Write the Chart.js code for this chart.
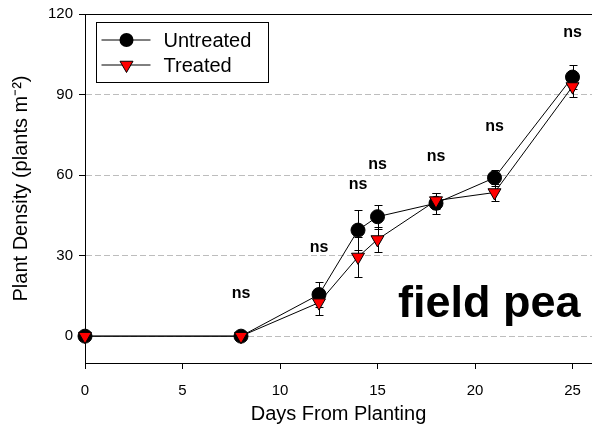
<!DOCTYPE html>
<html>
<head>
<meta charset="utf-8">
<script src="https://cdn.jsdelivr.net/npm/chart.js@4.4.1/dist/chart.umd.min.js"></script>
<style>
  body { margin: 0; background: #fff; }
  canvas { display: block; }
</style>
</head>
<body>
<canvas id="peaChart" width="592" height="428"></canvas>
<script>
// days after planting and plant density (plants m-2)
var days = [0, 8, 12, 14, 15, 18, 21, 25];
var untreated = [0, 0, 15.5, 39.5, 44.5, 49.5, 59, 96.5];
var untreatedErr = [0, 0, 4.5, 7.5, 4.5, 4, 3, 4.5];
var treated = [0, 0, 12.5, 29.5, 36, 50.5, 53.5, 93];
var treatedErr = [0, 0, 4.5, 7.5, 4.5, 3, 3, 4];

// "ns" labels (day, height on y scale)
var nsDays = [8, 12, 14, 15, 18, 21, 25];
var nsHeights = [16, 33, 56.5, 64, 67, 78, 113];

var xTicks = [0, 5, 10, 15, 20, 25];
var yTicks = [0, 30, 60, 90, 120];

var FONT = '"Liberation Sans", Arial, sans-serif';

function pts(xs, ys) {
    return xs.map(function (d, i) { return { x: d, y: ys[i] }; });
}

function drawTriangle(ctx, cx, cy, r) {
    // downward triangle, same shape as chart.js 'triangle' rotated 180
    var h = r * 1.5;
    var w = r * Math.sqrt(3) / 2;
    ctx.beginPath();
    ctx.moveTo(cx, cy + r);
    ctx.lineTo(cx - w, cy + r - h);
    ctx.lineTo(cx + w, cy + r - h);
    ctx.closePath();
    ctx.fill();
    ctx.stroke();
}

var extras = {
    id: 'extras',
    beforeDatasetsDraw: function (chart) {
        var ctx = chart.ctx, x = chart.scales.x, y = chart.scales.y;
        ctx.save();
        ctx.strokeStyle = '#000';
        ctx.lineWidth = 1;
        [[untreated, untreatedErr], [treated, treatedErr]].forEach(function (s) {
            var vals = s[0], errs = s[1];
            days.forEach(function (d, i) {
                if (!errs[i]) return;
                var px = Math.round(x.getPixelForValue(d)) + 0.5;
                var top = Math.round(y.getPixelForValue(vals[i] + errs[i])) + 0.5;
                var bot = Math.round(y.getPixelForValue(vals[i] - errs[i])) + 0.5;
                ctx.beginPath();
                ctx.moveTo(px, top); ctx.lineTo(px, bot);
                ctx.moveTo(px - 4, top); ctx.lineTo(px + 4, top);
                ctx.moveTo(px - 4, bot); ctx.lineTo(px + 4, bot);
                ctx.stroke();
            });
        });
        ctx.restore();
    },
    afterDraw: function (chart) {
        var ctx = chart.ctx, a = chart.chartArea, x = chart.scales.x, y = chart.scales.y;
        ctx.save();
        // top frame line
        ctx.strokeStyle = '#000';
        ctx.lineWidth = 1;
        ctx.beginPath();
        ctx.moveTo(a.left, Math.round(a.top) + 0.5);
        ctx.lineTo(a.right, Math.round(a.top) + 0.5);
        ctx.stroke();

        // ns labels
        ctx.fillStyle = '#000';
        ctx.font = 'bold 16px ' + FONT;
        ctx.textAlign = 'center';
        ctx.textBaseline = 'middle';
        nsDays.forEach(function (d, i) {
            ctx.fillText('ns', x.getPixelForValue(d), y.getPixelForValue(nsHeights[i]));
        });

        // crop label
        ctx.font = 'bold 45px ' + FONT;
        ctx.textAlign = 'left';
        ctx.textBaseline = 'alphabetic';
        ctx.fillText('field pea', x.getPixelForValue(16.05), y.getPixelForValue(7));

        // legend box
        var bx = a.left + 11.5, by = a.top + 8.5, bw = 172, bh = 60;
        ctx.fillStyle = '#fff';
        ctx.fillRect(bx, by, bw, bh);
        ctx.strokeRect(bx, by, bw, bh);
        var rows = [
            { label: 'Untreated', yy: by + 17.5, kind: 'circle' },
            { label: 'Treated', yy: by + 42.5, kind: 'tri' }
        ];
        rows.forEach(function (r) {
            ctx.strokeStyle = '#000';
            ctx.beginPath();
            ctx.moveTo(bx + 5, r.yy);
            ctx.lineTo(bx + 54, r.yy);
            ctx.stroke();
            if (r.kind === 'circle') {
                ctx.fillStyle = '#000';
                ctx.beginPath();
                ctx.arc(bx + 30, r.yy, 7, 0, Math.PI * 2);
                ctx.fill();
            } else {
                ctx.fillStyle = '#ff0000';
                drawTriangle(ctx, bx + 30, r.yy, 7.5);
            }
            ctx.fillStyle = '#000';
            ctx.font = '20px ' + FONT;
            ctx.textAlign = 'left';
            ctx.textBaseline = 'middle';
            ctx.fillText(r.label, bx + 67, r.yy + 1);
        });
        ctx.restore();
    }
};

new Chart('peaChart', {
    type: 'line',
    data: {
        datasets: [{
            label: 'Treated',
            data: pts(days, treated),
            order: 0,
            borderColor: '#000',
            borderWidth: 1,
            pointStyle: 'triangle',
            pointRotation: 180,
            pointRadius: 7.5,
            pointBackgroundColor: '#ff0000',
            pointBorderColor: '#000',
            pointBorderWidth: 1,
            clip: false
        }, {
            label: 'Untreated',
            data: pts(days, untreated),
            order: 1,
            borderColor: '#000',
            borderWidth: 1,
            pointStyle: 'circle',
            pointRadius: 7,
            pointBackgroundColor: '#000',
            pointBorderColor: '#000',
            pointBorderWidth: 1,
            clip: false
        }]
    },
    options: {
        responsive: false,
        animation: false,
        layout: { autoPadding: false, padding: { top: 14, right: 0, left: 0, bottom: 0 } },
        plugins: { legend: { display: false }, tooltip: { enabled: false } },
        scales: {
            x: {
                type: 'linear',
                min: 0,
                max: 26,
                afterBuildTicks: function (s) { s.ticks = xTicks.map(function (v) { return { value: v }; }); },
                afterFit: function (s) { s.height = 65; s.paddingLeft = 0; s.paddingRight = 0; },
                grid: { drawOnChartArea: false, drawTicks: true, tickLength: 6, tickColor: '#000' },
                border: { color: '#000', width: 1 },
                ticks: { color: '#000', font: { family: FONT, size: 15 }, padding: 13, maxRotation: 0 },
                title: {
                    display: true,
                    text: 'Days From Planting',
                    color: '#000',
                    font: { family: FONT, size: 20 },
                    padding: { top: 0, bottom: 2 }
                }
            },
            y: {
                min: -10,
                max: 120,
                afterBuildTicks: function (s) { s.ticks = yTicks.map(function (v) { return { value: v }; }); },
                afterFit: function (s) { s.width = 85; s.paddingTop = 0; s.paddingBottom = 0; },
                grid: {
                    color: function (c) { return c.tick && c.tick.value === 120 ? 'rgba(0,0,0,0)' : '#bdbdbd'; },
                    drawTicks: true,
                    tickLength: 6,
                    tickColor: '#000',
                    tickBorderDash: []
                },
                border: { color: '#000', width: 1, dash: [6, 3] },
                ticks: { color: '#000', font: { family: FONT, size: 15 }, padding: 6 },
                title: {
                    display: true,
                    text: 'Plant Density (plants m\u207B\u00B2)',
                    color: '#000',
                    font: { family: FONT, size: 20 },
                    padding: { top: 9, bottom: 0 }
                }
            }
        }
    },
    plugins: [extras]
});
</script>
</body>
</html>
